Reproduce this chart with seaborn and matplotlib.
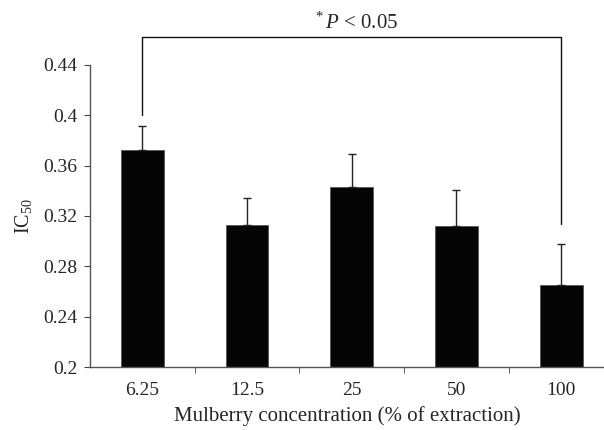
import numpy as np
import pandas as pd
import matplotlib
matplotlib.use('Agg')
import matplotlib.pyplot as plt
import seaborn as sns

concentrations = ['6.25', '12.5', '25', '50', '100']
ic50 = [0.3725, 0.313, 0.343, 0.312, 0.265]
ic50_err = [0.019, 0.0215, 0.026, 0.0285, 0.033]
yticks = [0.2, 0.24, 0.28, 0.32, 0.36, 0.4, 0.44]
ytick_labels = ['0.2', '0.24', '0.28', '0.32', '0.36', '0.4', '0.44']
bracket_ends = [0.400, 0.314]
bracket_top = 0.4623
sig_label = r'$^{*}\,P$ < 0.05'

sns.set_style('ticks')
plt.rcParams['font.family'] = ['Liberation Serif', 'DejaVu Serif']
plt.rcParams['mathtext.fontset'] = 'custom'
plt.rcParams['mathtext.rm'] = 'Liberation Serif'
plt.rcParams['mathtext.it'] = 'Liberation Serif:italic'

df = pd.DataFrame({'conc': concentrations, 'ic50': ic50})

fig = plt.figure(figsize=(6.04, 4.30), dpi=100)
ax = fig.add_axes([0.149, 0.1465, 0.851, 0.7025])
sns.barplot(data=df, x='conc', y='ic50', color='#050505', width=0.41,
            saturation=1, errorbar=None, ax=ax, edgecolor='#555555', linewidth=0.6)
x = np.arange(len(concentrations))
ax.errorbar(x, ic50, yerr=[np.zeros(len(ic50)), ic50_err], fmt='none',
            ecolor='#222222', elinewidth=1, capsize=3, capthick=1)

ax.set_ylim(0.2, 0.44)
ax.set_xlim(-0.5, 4.41)
ax.set_yticks(yticks)
ax.set_yticklabels(ytick_labels)
ax.set_xticks(x)
ax.set_xticks(x[:-1] + 0.5, minor=True)
ax.tick_params(axis='x', which='major', length=0, labelsize=14, pad=11)
ax.tick_params(axis='x', which='minor', length=4, direction='out', color='#444444')
ax.tick_params(axis='y', length=4, direction='out', labelsize=14, pad=5, color='#444444')
for s in ['top', 'right']:
    ax.spines[s].set_visible(False)
for s in ['left', 'bottom']:
    ax.spines[s].set_color('#555555')
    ax.spines[s].set_linewidth(1)

ax.set_xlabel('Mulberry concentration (% of extraction)', fontsize=15, labelpad=5)
ax.set_ylabel(r'IC$_{50}$', fontsize=14.5, labelpad=7)

ax.plot([0, 0, 4, 4], [bracket_ends[0], bracket_top, bracket_top, bracket_ends[1]],
        color='#111111', lw=1, clip_on=False)
ax.text(2.05, 0.4685, sig_label, ha='center', va='baseline', fontsize=15)

fig.savefig('out.png', dpi=100)
